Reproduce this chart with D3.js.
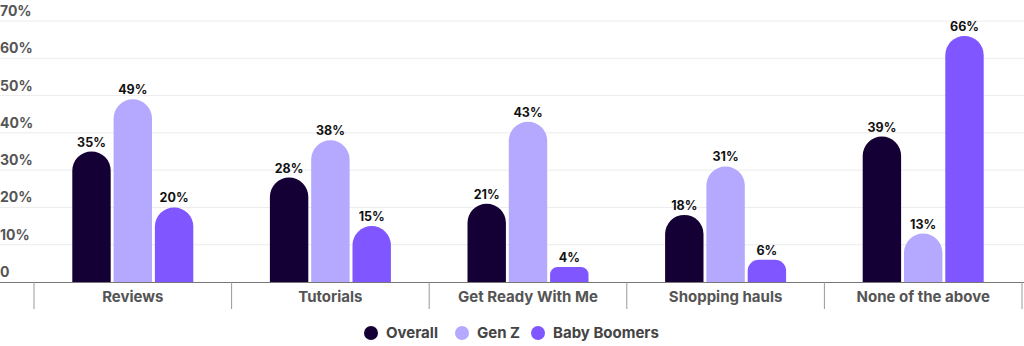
<!DOCTYPE html>
<html lang="en">
<head>
    <meta charset="UTF-8">
    <title>Content types by generation</title>
    <script src="https://d3js.org/d3.v7.min.js"></script>
    <style>
        body { margin: 0; padding: 0; background: #fff; font-family: Inter, "Open Sans", sans-serif; }
        svg { display: block; }
        .tick-label { font-size: 14px; font-weight: 700; fill: #555; }
        .cat-label { font-size: 15px; font-weight: 700; fill: #555; }
        .value-label { font-size: 12.5px; font-weight: 700; fill: #111; }
        .legend-label { font-size: 15px; font-weight: 700; fill: #444; }
    </style>
</head>
<body>
    <div id="chart"></div>
    <script>
        const categories = ["Reviews", "Tutorials", "Get Ready With Me", "Shopping hauls", "None of the above"];
        const seriesNames = ["Overall", "Gen Z", "Baby Boomers"];
        const overall = [35, 28, 21, 18, 39];
        const genZ = [49, 38, 43, 31, 13];
        const babyBoomers = [20, 15, 4, 6, 66];
        const yTicks = [0, 10, 20, 30, 40, 50, 60, 70];
        const colors = ["#150035", "#b5a8ff", "#7f56ff"];

        const width = 1024, height = 346;
        const seriesValues = [overall, genZ, babyBoomers];
        const data = [];
        categories.forEach((c, i) => {
            seriesNames.forEach((s, j) => {
                data.push({ category: c, series: s, value: seriesValues[j][i] });
            });
        });

        const svg = d3.select("#chart").append("svg")
            .attr("width", width)
            .attr("height", height);

        const x0 = d3.scaleBand().domain(categories).range([34, 1022]).padding(0);
        const groupW = 121;
        const x1 = d3.scaleBand().domain(seriesNames)
            .range([(x0.bandwidth() - groupW) / 2, (x0.bandwidth() + groupW) / 2])
            .paddingInner(0.07);
        const y = d3.scaleLinear().domain([0, 70]).range([282, 21]);
        const color = d3.scaleOrdinal().domain(seriesNames).range(colors);

        // gridlines + tick labels
        const grid = svg.append("g");
        grid.selectAll("line").data(yTicks.filter(d => d > 0)).enter().append("line")
            .attr("x1", 0).attr("x2", width)
            .attr("y1", d => y(d)).attr("y2", d => y(d))
            .attr("stroke", "#ececec").attr("stroke-width", 1);
        grid.selectAll("text").data(yTicks).enter().append("text")
            .attr("class", "tick-label")
            .attr("x", 0)
            .attr("y", d => y(d) - 5)
            .text(d => d === 0 ? "0" : d + "%");

        // bars with rounded tops
        function barPath(d) {
            const x = x0(d.category) + x1(d.series);
            const w = x1.bandwidth();
            const top = y(d.value), base = y(0);
            const h = base - top;
            const r = Math.min(w / 2, h / 2);
            return `M${x},${base} L${x},${top + r} A${r},${r} 0 0 1 ${x + r},${top} L${x + w - r},${top} A${r},${r} 0 0 1 ${x + w},${top + r} L${x + w},${base} Z`;
        }
        svg.append("g").selectAll("path").data(data).enter().append("path")
            .attr("d", barPath)
            .attr("fill", d => color(d.series));

        svg.append("g").selectAll("text").data(data).enter().append("text")
            .attr("class", "value-label")
            .attr("text-anchor", "middle")
            .attr("x", d => x0(d.category) + x1(d.series) + x1.bandwidth() / 2)
            .attr("y", d => y(d.value) - 5)
            .text(d => d.value + "%");

        // x axis
        svg.append("line")
            .attr("x1", 0).attr("x2", width)
            .attr("y1", y(0) + 0.5).attr("y2", y(0) + 0.5)
            .attr("stroke", "#777").attr("stroke-width", 1.2);
        const dividers = categories.map(c => x0(c)).concat([x0.range()[1]]);
        svg.append("g").selectAll("line").data(dividers).enter().append("line")
            .attr("x1", d => d).attr("x2", d => d)
            .attr("y1", y(0)).attr("y2", 309)
            .attr("stroke", "#999").attr("stroke-width", 1);
        svg.append("g").selectAll("text").data(categories).enter().append("text")
            .attr("class", "cat-label")
            .attr("text-anchor", "middle")
            .attr("x", d => x0(d) + x0.bandwidth() / 2)
            .attr("y", 302)
            .text(d => d);

        // legend
        const legendX = [371, 462, 538];
        const legend = svg.append("g").selectAll("g").data(seriesNames).enter().append("g")
            .attr("transform", (d, i) => `translate(${legendX[i]},333)`);
        legend.append("circle").attr("r", 7).attr("fill", d => color(d));
        legend.append("text")
            .attr("class", "legend-label")
            .attr("x", 15).attr("y", 5)
            .text(d => d);
    </script>
</body>
</html>
